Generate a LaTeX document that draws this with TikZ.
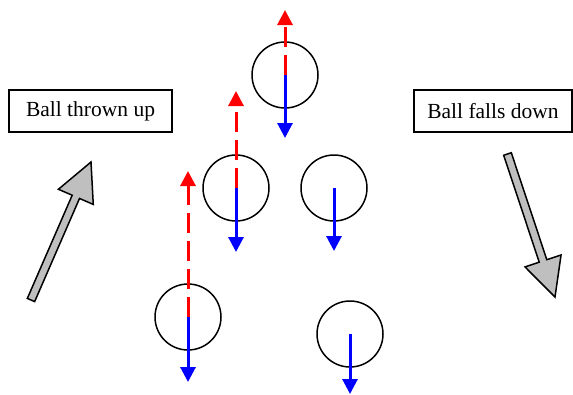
\documentclass[tikz,border=0pt]{standalone}
\usepackage{fontspec}
\setmainfont{Liberation Serif}
\usetikzlibrary{arrows.meta,calc}
\tikzset{
  ball/.style={circle, draw=black, line width=1.5pt, minimum size=66pt, inner sep=0pt},
  label box/.style={draw=black, line width=1.5pt, minimum height=42pt, inner sep=0pt,
    font=\fontsize{21.5}{25}\selectfont},
  up vec/.style={draw=red, line width=3pt, dash pattern=on 20pt off 8pt,
    -{Triangle[width=15pt,length=15pt]}},
  down vec/.style={draw=blue, line width=3pt, -{Triangle[width=15pt,length=15pt]}},
  block arrow/.style={draw=black, line width=1.5pt, fill=black!25, line join=miter},
}
\newcommand{\blockarrow}[2]{%
  \coordinate (H) at ($(#2)!38pt!(#1)$);
  \path[block arrow]
    ($(#1)!4pt!90:(#2)$) -- ($(H)!4pt!90:(#2)$) -- ($(H)!19pt!90:(#2)$) -- (#2)
    -- ($(H)!19pt!-90:(#2)$) -- ($(H)!4pt!-90:(#2)$) -- ($(#1)!4pt!-90:(#2)$) -- cycle;
}
\begin{document}
\begin{tikzpicture}[x=1pt,y=-1pt]
\useasboundingbox (0,0) rectangle (573,394);
% labels
\node[label box, minimum width=163pt] (up) at (90.5,111) {Ball thrown up};
\node[label box, minimum width=158pt] (down) at (493,111) {Ball falls down};
% balls
\node[ball] (b1) at (188,317) {};
\node[ball] (b2) at (236,188) {};
\node[ball] (b3) at (285,75) {};
\node[ball] (b4) at (334,188) {};
\node[ball] (b5) at (350,334) {};
% arrow ends
\coordinate (u1) at (188,171);
\coordinate (u2) at (236,91);
\coordinate (u3) at (285,10);
\coordinate (d1) at (188,382);
\coordinate (d2) at (236,252);
\coordinate (d3) at (285,138);
\coordinate (d4) at (334,251);
\coordinate (d5) at (350,394);
% velocity arrows
\draw[up vec] (b1.center) -- (u1);
\draw[up vec] (b2.center) -- (u2);
\draw[up vec] (b3.center) -- (u3);
\draw[down vec] (b1.center) -- (d1);
\draw[down vec] (b2.center) -- (d2);
\draw[down vec] (b3.center) -- (d3);
\draw[down vec] (b4.center) -- (d4);
\draw[down vec] (b5.center) -- (d5);
% block arrows
\coordinate (lt) at (31,300);
\coordinate (lh) at (91,162);
\coordinate (rt) at (507.5,154);
\coordinate (rh) at (555,297);
\blockarrow{lt}{lh}
\blockarrow{rt}{rh}
\end{tikzpicture}
\end{document}
